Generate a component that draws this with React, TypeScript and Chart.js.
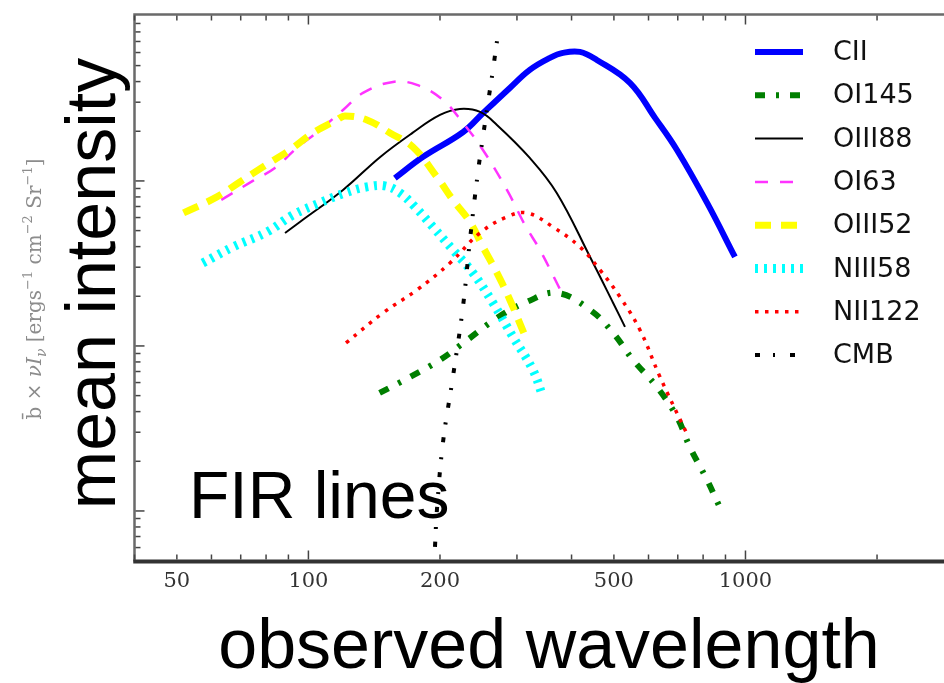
import React, { useEffect, useRef } from "react";
import { Chart, registerables } from "chart.js";

Chart.register(...registerables);

// ---------- data (observed wavelength [micron], mean intensity [arbitrary log units]) ----------
const CII_X = [157.7, 183, 226, 251, 289, 321, 357, 382, 418, 457, 544, 621, 697, 817, 946];
const CII_Y = [10.4, 14.0, 19.8, 25.8, 36.6, 47.1, 55.7, 59.7, 60.5, 54.1, 39.3, 24.1, 15.4, 7.36, 3.46];

const OI145_X = [145.5, 171, 200, 231, 270, 316, 370, 441, 498, 553, 627, 697, 746, 817, 873];
const OI145_Y = [0.519, 0.649, 0.823, 1.087, 1.478, 1.848, 2.096, 1.653, 1.199, 0.823, 0.564, 0.371, 0.244, 0.154, 0.1057];

const OIII88_X = [88.4, 95.6, 120, 146, 173, 200, 222, 247, 270, 321, 370, 441, 498, 530];
const OIII88_Y = [4.84, 5.64, 8.82, 13.98, 19.54, 25.1, 27.3, 26.2, 21.85, 13.79, 8.46, 3.46, 1.822, 1.304];

const OI63_X = [63.2, 74.6, 83.8, 94.1, 106.2, 120, 133.3, 156.1, 177.1, 203.1, 225.7, 250.8, 284.6, 312.9, 338.6, 379];
const OI63_Y = [7.67, 10, 11.99, 15.85, 20.37, 26.93, 34.15, 39.8, 38.17, 30.97, 22.46, 15.41, 8.82, 5.41, 3.82, 2.125];

const OIII52_X = [51.8, 61.75, 69.7, 78.7, 90.7, 102.4, 116.2, 121.2, 136.1, 153.7, 173.4, 196.8, 214.1, 234.2, 250.8, 270, 289.1, 311];
const OIII52_Y = [6.4, 8.0, 9.86, 12.16, 15.41, 19.54, 23.43, 24.77, 23.43, 19.54, 16.07, 10.57, 7.67, 5.64, 3.98, 2.77, 1.9, 1.199];

const NIII58_X = [57.3, 67.2, 80.4, 92.2, 106.2, 121.2, 136.1, 149.6, 162, 175.3, 192.7, 214.1, 237.9, 264.4, 293.8, 326.3, 344];
const NIII58_Y = [3.18, 3.98, 4.91, 6.22, 7.36, 8.46, 9.2, 9.33, 8.46, 6.96, 5.26, 3.82, 2.77, 1.822, 1.134, 0.715, 0.491];

const NII122_X = [121.9, 148.1, 177.1, 210.8, 246.9, 284.6, 316.2, 362.6, 418.1, 464.5, 516.2, 573.6, 637.4, 731];
const NII122_Y = [1.043, 1.585, 2.185, 3.18, 4.84, 6.05, 6.4, 5.26, 3.98, 2.89, 1.982, 1.25, 0.649, 0.301];

const CMB_X = [194.8, 196.8, 203.1, 214.1, 225.7, 234.2, 244.3, 250.8, 257.5, 264.4, 271.5, 274.4];
const CMB_Y = [0.0605, 0.1014, 0.258, 0.649, 1.723, 4.39, 11.34, 18.5, 29.7, 47.1, 76.7, 84.6];

const SERIES_NAMES = ["CII", "OI145", "OIII88", "OI63", "OIII52", "NIII58", "NII122", "CMB"];
const SERIES_X = [CII_X, OI145_X, OIII88_X, OI63_X, OIII52_X, NIII58_X, NII122_X, CMB_X];
const SERIES_Y = [CII_Y, OI145_Y, OIII88_Y, OI63_Y, OIII52_Y, NIII58_Y, NII122_Y, CMB_Y];

// axis ticks
const X_MIN = 40;
const X_MAX = 2846;
const Y_MIN = 0.0494;
const Y_MAX = 102;
const X_TICKS = [40, 50, 60, 70, 80, 90, 100, 200, 300, 400, 500, 600, 700, 800, 900, 1000, 2000];
const X_MAJOR = [100, 1000];
const X_LABEL_VALUES = [50, 100, 200, 500, 1000];
const X_LABELS = ["50", "100", "200", "500", "1000"];
const Y_TICKS = [
  0.05, 0.06, 0.07, 0.08, 0.09, 0.1, 0.2, 0.3, 0.4, 0.5, 0.6, 0.7, 0.8, 0.9,
  1, 2, 3, 4, 5, 6, 7, 8, 9, 10, 20, 30, 40, 50, 60, 70, 80, 90, 100,
];
const Y_MAJOR = [0.1, 1, 10, 100];

// ---------- styles ----------
const STYLES = [
  { color: "#0000ff", width: 6, dash: [] as number[] },
  { color: "#007f00", width: 6, dash: [10, 11, 3, 11] },
  { color: "#000000", width: 2, dash: [] as number[] },
  { color: "#ff33ff", width: 2.5, dash: [13, 12] },
  { color: "#ffff00", width: 7, dash: [16, 10] },
  { color: "#00ffff", width: 9, dash: [3, 6] },
  { color: "#ff0000", width: 3.5, dash: [3.5, 6.5] },
  { color: "#000000", width: 4, dash: [5, 13, 2, 15] },
];

const overlay = {
  id: "overlay",
  afterDraw(chart: any) {
    const ctx: CanvasRenderingContext2D = chart.ctx;
    const xs = chart.scales.x;
    const ys = chart.scales.y;
    const { left, right, top, bottom } = chart.chartArea;
    ctx.save();

    // spines
    ctx.setLineDash([]);
    ctx.lineCap = "butt";
    ctx.strokeStyle = "#6a6a6a";
    ctx.lineWidth = 2.5;
    ctx.beginPath();
    ctx.moveTo(left, bottom);
    ctx.lineTo(left, top);
    ctx.lineTo(right + 2, top);
    ctx.stroke();
    ctx.strokeStyle = "#333333";
    ctx.lineWidth = 4;
    ctx.beginPath();
    ctx.moveTo(left - 1.25, bottom);
    ctx.lineTo(right + 2, bottom);
    ctx.stroke();

    // x ticks (inward, bottom and top)
    ctx.strokeStyle = "#444444";
    ctx.lineWidth = 1.5;
    for (const v of X_TICKS) {
      const px = xs.getPixelForValue(v);
      const len = X_MAJOR.includes(v) ? 9 : 5;
      ctx.beginPath();
      ctx.moveTo(px, bottom - 2);
      ctx.lineTo(px, bottom - 2 - len);
      ctx.moveTo(px, top + 1);
      ctx.lineTo(px, top + 1 + len);
      ctx.stroke();
    }
    // y ticks (inward, left)
    for (const v of Y_TICKS) {
      const py = ys.getPixelForValue(v);
      if (py < top + 2 || py > bottom - 2) continue;
      const len = Y_MAJOR.includes(v) ? 9 : 5;
      ctx.beginPath();
      ctx.moveTo(left + 1, py);
      ctx.lineTo(left + 1 + len, py);
      ctx.stroke();
    }

    // x tick labels
    ctx.fillStyle = "#333333";
    ctx.font = "21px 'DejaVu Serif'";
    ctx.textAlign = "center";
    ctx.textBaseline = "middle";
    X_LABEL_VALUES.forEach((v, i) => {
      ctx.fillText(X_LABELS[i], xs.getPixelForValue(v), 582);
    });

    // legend
    ctx.font = "27px 'DejaVu Sans'";
    ctx.textAlign = "left";
    ctx.textBaseline = "middle";
    chart.data.datasets.forEach((ds: any, i: number) => {
      const y = 52 + i * 43.3;
      ctx.strokeStyle = ds.borderColor;
      ctx.lineWidth = ds.borderWidth;
      ctx.setLineDash(ds.borderDash || []);
      ctx.lineCap = "butt";
      ctx.beginPath();
      ctx.moveTo(755, y);
      ctx.lineTo(803, y);
      ctx.stroke();
      ctx.setLineDash([]);
      ctx.fillStyle = "#111111";
      ctx.fillText(ds.label, 833, y + 1);
    });

    // big annotation texts
    ctx.fillStyle = "#000000";
    ctx.font = "70px 'Liberation Sans'";
    ctx.textAlign = "center";
    ctx.textBaseline = "alphabetic";
    ctx.fillText("observed wavelength", 549, 668);

    ctx.save();
    ctx.translate(115, 283.5);
    ctx.rotate(-Math.PI / 2);
    ctx.fillText("mean intensity", 0, 0);
    ctx.restore();

    ctx.font = "66px 'Liberation Sans'";
    ctx.textAlign = "left";
    ctx.fillText("FIR lines", 189, 518);

    // small gray axis label (rotated)
    const segs = [
      { t: "b\u0304 \u00d7 ", size: 20, dy: 0, it: false },
      { t: "\u03bdI", size: 20, dy: 0, it: true },
      { t: "\u03bd", size: 14, dy: 5, it: true },
      { t: " [ergs", size: 20, dy: 0, it: false },
      { t: "\u22121", size: 13, dy: -9, it: false },
      { t: " cm", size: 20, dy: 0, it: false },
      { t: "\u22122", size: 13, dy: -9, it: false },
      { t: " Sr", size: 20, dy: 0, it: false },
      { t: "\u22121", size: 13, dy: -9, it: false },
      { t: "]", size: 20, dy: 0, it: false },
    ];
    const fontOf = (s: any) => `${s.it ? "italic " : ""}${s.size}px 'DejaVu Serif'`;
    let total = 0;
    const widths = segs.map((s) => {
      ctx.font = fontOf(s);
      const w = ctx.measureText(s.t).width;
      total += w;
      return w;
    });
    ctx.save();
    ctx.translate(41, 289);
    ctx.rotate(-Math.PI / 2);
    ctx.fillStyle = "#8c8c8c";
    ctx.textAlign = "left";
    ctx.textBaseline = "alphabetic";
    let cx = -total / 2;
    segs.forEach((s, i) => {
      ctx.font = fontOf(s);
      ctx.fillText(s.t, cx, s.dy);
      cx += widths[i];
    });
    ctx.restore();

    ctx.restore();
  },
};

export default function App() {
  const ref = useRef<HTMLCanvasElement | null>(null);
  useEffect(() => {
    if (!ref.current) return;
    const datasets = SERIES_NAMES.map((name, i) => ({
      label: name,
      data: SERIES_X[i].map((x, j) => ({ x, y: SERIES_Y[i][j] })),
      borderColor: STYLES[i].color,
      backgroundColor: STYLES[i].color,
      borderWidth: STYLES[i].width,
      borderDash: STYLES[i].dash,
      borderCapStyle: "butt" as const,
      borderJoinStyle: "round" as const,
      tension: 0.4,
      pointRadius: 0,
      fill: false,
      order: SERIES_NAMES.length - i,
    }));
    const chart = new Chart(ref.current, {
      type: "line",
      data: { datasets },
      options: {
        animation: false,
        responsive: false,
        devicePixelRatio: 1,
        events: [],
        layout: { padding: { left: 134.5, top: 14.5, right: 0, bottom: 121.5 } },
        plugins: { legend: { display: false }, tooltip: { enabled: false } },
        scales: {
          x: { type: "logarithmic", min: X_MIN, max: X_MAX, display: false },
          y: { type: "logarithmic", min: Y_MIN, max: Y_MAX, display: false },
        },
      },
      plugins: [overlay],
    });
    return () => chart.destroy();
  }, []);
  return (
    <div style={{ position: "fixed", left: 0, top: 0, width: 944, height: 683, background: "#fff" }}>
      <canvas ref={ref} width={944} height={683} style={{ display: "block" }} />
    </div>
  );
}
